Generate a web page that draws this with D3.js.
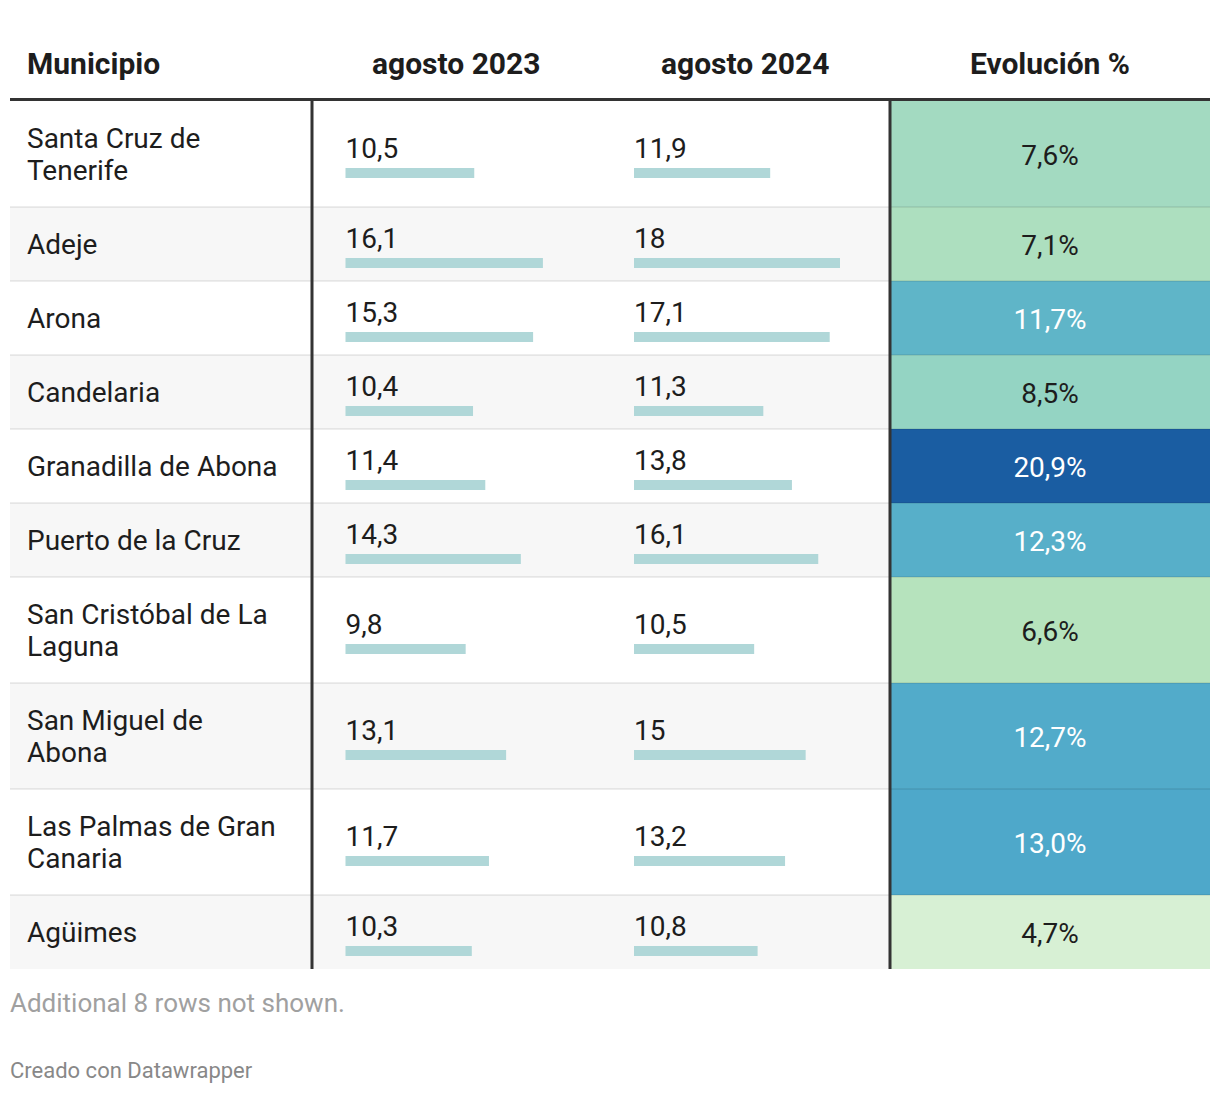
<!DOCTYPE html>
<html>
<head>
<meta charset="utf-8">
<script src="https://cdn.jsdelivr.net/npm/d3@7"></script>
<style>
  html, body { margin: 0; padding: 0; background: #fff; }
  svg { display: block; font-family: Roboto, "Noto Sans", sans-serif; }
</style>
</head>
<body>
<svg id="chart" width="1220" height="1094"></svg>
<script>
const headers = ["Municipio", "agosto 2023", "agosto 2024", "Evolución %"];
const municipios = [
  "Santa Cruz de Tenerife", "Adeje", "Arona", "Candelaria", "Granadilla de Abona",
  "Puerto de la Cruz", "San Cristóbal de La Laguna", "San Miguel de Abona",
  "Las Palmas de Gran Canaria", "Agüimes"
];
const ago2023 = [10.5, 16.1, 15.3, 10.4, 11.4, 14.3, 9.8, 13.1, 11.7, 10.3];
const ago2024 = [11.9, 18, 17.1, 11.3, 13.8, 16.1, 10.5, 15, 13.2, 10.8];
const evolucion = [7.6, 7.1, 11.7, 8.5, 20.9, 12.3, 6.6, 12.7, 13.0, 4.7];
// column maxima (include rows not shown, estimated)
const max2023 = 16.8;
const max2024 = 18;
// colour scale stops
const colorStops = [4.7, 6.6, 7.6, 8.5, 11.7, 13.0, 20.9];
const colorRange = ["#d7f0d4", "#b6e3bd", "#a3dac1", "#94d4c3", "#5fb5c8", "#4ea8ca", "#1a5da2"];
const noteText = "Additional 8 rows not shown.";
const creditText = "Creado con Datawrapper";

const svg = d3.select("#chart");
const loc = d3.formatLocale({decimal: ",", thousands: ".", grouping: [3], currency: ["", "€"]});
const fmtBar = loc.format(".1~f");
const fmtEvo = v => loc.format(".1f")(v) + "%";

const left = 10, right = 1210;
const c1 = 312, c2 = 600.5, c3 = 890;
const headerLineY = 99.5;
const tableTop = 101;
const singleH = 74, lineH = 32;
const fontSize = 28;

const x2023 = d3.scaleLinear().domain([0, max2023]).range([0, 206]);
const x2024 = d3.scaleLinear().domain([0, max2024]).range([0, 206]);
const color = d3.scaleLinear().domain(colorStops).range(colorRange).interpolate(d3.interpolateRgb);

// measure for wrapping
const meas = svg.append("text").attr("font-size", fontSize).attr("visibility", "hidden");
function width(s) { meas.text(s); return meas.node().getComputedTextLength(); }
function wrap(s, maxW) {
  const words = s.split(" "); const lines = []; let cur = "";
  words.forEach(w => {
    const t = cur ? cur + " " + w : w;
    if (cur && width(t) > maxW) { lines.push(cur); cur = w; } else cur = t;
  });
  if (cur) lines.push(cur);
  return lines;
}

const rows = municipios.map((m, i) => ({
  name: m, lines: wrap(m, 256), a: ago2023[i], b: ago2024[i], e: evolucion[i], i
}));
let y = tableTop;
rows.forEach(r => { r.h = singleH + (r.lines.length - 1) * lineH; r.y = y; y += r.h; r.mid = r.y + r.h / 2; });
const tableBottom = y;
meas.remove();

// header
const headX = [27, (c1 + c2) / 2, (c2 + c3) / 2, (c3 + right) / 2];
svg.selectAll("text.head").data(headers).join("text")
  .attr("class", "head")
  .attr("x", (d, i) => headX[i])
  .attr("y", 74)
  .attr("text-anchor", (d, i) => i === 0 ? "start" : "middle")
  .attr("font-size", 30).attr("font-weight", 700).attr("fill", "#1d1d1d")
  .text(d => d);

const g = svg.selectAll("g.row").data(rows).join("g").attr("class", "row");
// backgrounds
g.append("rect").attr("x", left).attr("y", d => d.y).attr("width", c3 - left).attr("height", d => d.h)
  .attr("fill", d => d.i % 2 ? "#f7f7f7" : "#ffffff");
g.append("rect").attr("x", c3).attr("y", d => d.y).attr("width", right - c3).attr("height", d => d.h)
  .attr("fill", d => color(d.e));
// separators
g.filter(d => d.i > 0).append("rect").attr("x", left).attr("y", d => d.y - 1).attr("width", right - left).attr("height", 2)
  .attr("fill", "rgba(0,0,0,0.07)");
// names
g.each(function(d) {
  const t = d3.select(this).append("text").attr("font-size", fontSize).attr("fill", "#1d1d1d");
  d.lines.forEach((l, k) => {
    t.append("tspan").attr("x", 27).attr("y", d.mid - (d.lines.length - 1) * lineH / 2 + 10 + k * lineH).text(l);
  });
});
// bars
[[c1, "a", x2023], [c2, "b", x2024]].forEach(([cx, key, sc]) => {
  g.append("text").attr("x", cx + 33.5).attr("y", d => d.mid + 3.5).attr("font-size", fontSize).attr("fill", "#1d1d1d")
    .text(d => fmtBar(d[key]));
  g.append("rect").attr("x", cx + 33.5).attr("y", d => d.mid + 14).attr("height", 10)
    .attr("width", d => sc(d[key])).attr("fill", "#b0d7d8");
});
// evolucion
g.append("text").attr("x", headX[3]).attr("y", d => d.mid + 11).attr("text-anchor", "middle")
  .attr("font-size", fontSize)
  .attr("fill", d => d3.hsl(color(d.e)).l < 0.65 ? "#ffffff" : "#1d1d1d")
  .text(d => fmtEvo(d.e));

// lines
svg.append("rect").attr("x", left).attr("y", headerLineY - 1.5).attr("width", right - left).attr("height", 3).attr("fill", "#333");
[c1, c3].forEach(cx => svg.append("rect").attr("x", cx - 1.5).attr("y", tableTop).attr("width", 3)
  .attr("height", tableBottom - tableTop).attr("fill", "#333"));

// footer
svg.append("text").attr("x", 10).attr("y", 1012).attr("font-size", 26).attr("fill", "#a0a0a0").text(noteText);
svg.append("text").attr("x", 10).attr("y", 1078).attr("font-size", 22).attr("fill", "#888").text(creditText);
</script>
</body>
</html>
